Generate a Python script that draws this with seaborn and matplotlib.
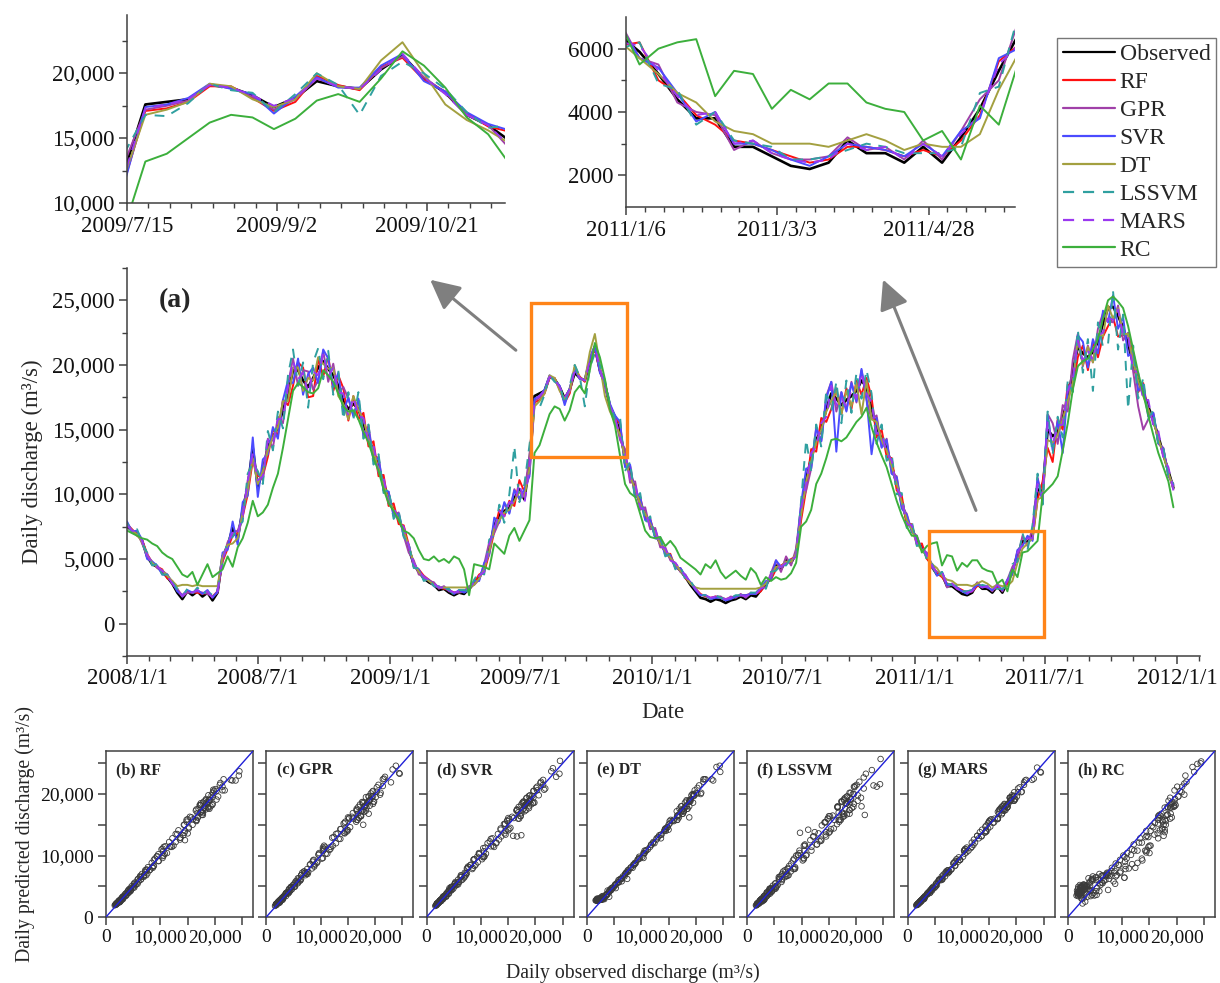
import numpy as np
import pandas as pd
import matplotlib
matplotlib.use("Agg")
import matplotlib.pyplot as plt
import matplotlib.dates as mdates
from matplotlib.ticker import FixedLocator, FuncFormatter
from matplotlib.lines import Line2D
from matplotlib.patches import Rectangle, FancyArrowPatch
import seaborn as sns

# Weekly discharge series, 2008-01-01 onwards (hundreds of m³/s)
observed = [
    75, 72, 70, 64, 52, 46, 44, 40, 36, 31,
    24, 19, 25, 22, 25, 21, 24, 18, 24, 52,
    60, 74, 66, 88, 106, 136, 106, 118, 137, 144,
    152, 165, 178, 196, 196, 188, 183, 190, 198, 203,
    197, 192, 184, 172, 166, 170, 166, 154, 144, 133,
    121, 109, 96, 88, 81, 72, 58, 46, 40, 35,
    32, 30, 26, 27, 24, 22, 24, 23, 27, 31,
    36, 42, 58, 76, 84, 87, 90, 97, 104, 96,
    124, 176, 178, 180, 191, 189, 183, 174, 181, 194,
    190, 188, 203, 214, 196, 185, 168, 160, 148, 128,
    116, 104, 93, 85, 77, 70, 62, 56, 51, 45,
    41, 36, 30, 25, 20, 19, 17, 19, 18, 16,
    18, 19, 21, 19, 22, 21, 26, 30, 36, 45,
    42, 49, 47, 54, 86, 112, 128, 142, 150, 166,
    178, 174, 169, 173, 176, 180, 188, 183, 166, 152,
    143, 136, 122, 108, 94, 80, 74, 64, 59, 52,
    44, 38, 38, 29, 29, 26, 23, 22, 24, 31,
    27, 27, 24, 29, 24, 32, 41, 53, 64, 63,
    69, 104, 102, 150, 145, 148, 159, 174, 195, 214,
    209, 206, 210, 218, 232, 244, 245, 238, 229, 216,
    201, 188, 178, 168, 157, 145, 131, 118, 105]

rf = [
    77, 73, 68, 65, 54, 47, 44, 42, 35, 33,
    26, 22, 25, 24, 24, 23, 24, 21, 25, 48,
    58, 68, 70, 83, 100, 126, 114, 114, 129, 150,
    146, 173, 169, 184, 202, 198, 175, 176, 205, 191,
    207, 180, 192, 182, 157, 176, 158, 163, 137, 141,
    114, 115, 91, 93, 77, 76, 61, 44, 42, 37,
    34, 31, 28, 27, 26, 24, 25, 25, 26, 32,
    38, 40, 54, 71, 88, 83, 95, 91, 111, 102,
    116, 171, 173, 178, 190, 190, 181, 171, 178, 198,
    191, 187, 205, 212, 195, 186, 169, 159, 155, 122,
    122, 99, 98, 81, 81, 67, 65, 54, 54, 43,
    43, 35, 32, 27, 23, 21, 20, 21, 20, 19,
    20, 21, 22, 22, 23, 23, 25, 32, 34, 42,
    45, 47, 50, 52, 80, 104, 135, 133, 159, 156,
    166, 182, 162, 182, 166, 188, 177, 190, 175, 144,
    150, 129, 128, 103, 99, 76, 77, 61, 62, 50,
    46, 39, 36, 31, 30, 28, 26, 24, 25, 29,
    29, 28, 26, 28, 26, 31, 39, 56, 61, 67,
    65, 96, 110, 136, 125, 158, 150, 185, 182, 206,
    215, 196, 218, 206, 222, 230, 237, 222, 223, 224,
    208, 179, 186, 162, 162, 140, 135, 115, 107]

gpr = [
    78, 72, 71, 62, 53, 48, 43, 41, 38, 31,
    27, 21, 24, 24, 25, 24, 23, 21, 24, 49,
    63, 70, 72, 82, 111, 127, 116, 111, 143, 136,
    160, 155, 185, 205, 184, 196, 195, 181, 188, 211,
    187, 201, 178, 183, 174, 161, 173, 146, 153, 127,
    129, 103, 102, 84, 86, 68, 55, 49, 38, 37,
    33, 32, 27, 29, 25, 24, 24, 25, 29, 30,
    34, 46, 63, 70, 79, 93, 86, 104, 96, 101,
    130, 172, 175, 179, 191, 189, 182, 172, 180, 196,
    190, 188, 204, 213, 197, 185, 168, 160, 142, 135,
    109, 110, 88, 90, 73, 74, 59, 59, 49, 47,
    40, 38, 31, 27, 22, 22, 19, 21, 21, 18,
    21, 20, 23, 20, 24, 23, 28, 28, 39, 49,
    40, 52, 45, 58, 92, 103, 120, 152, 141, 176,
    187, 164, 179, 165, 187, 171, 196, 173, 158, 161,
    137, 143, 116, 114, 90, 85, 71, 68, 57, 55,
    43, 40, 39, 28, 31, 27, 25, 25, 26, 32,
    28, 29, 25, 31, 25, 34, 44, 50, 68, 60,
    74, 113, 95, 162, 155, 139, 169, 164, 204, 224,
    199, 215, 202, 228, 240, 234, 233, 246, 219, 225,
    195, 168, 150, 158, 163, 139, 136, 114, 108]

svr = [
    79, 71, 72, 65, 50, 48, 45, 38, 38, 32,
    25, 22, 26, 24, 26, 23, 26, 20, 25, 55,
    57, 79, 61, 94, 99, 144, 98, 127, 131, 152,
    143, 173, 188, 186, 205, 177, 193, 198, 186, 212,
    205, 183, 194, 164, 175, 160, 174, 145, 151, 126,
    128, 103, 102, 83, 85, 68, 61, 44, 42, 34,
    34, 29, 28, 28, 26, 23, 26, 24, 26, 33,
    33, 47, 53, 82, 78, 94, 85, 103, 97, 104,
    114, 174, 176, 181, 192, 188, 184, 169, 182, 197,
    189, 189, 206, 215, 194, 186, 170, 161, 156, 121,
    123, 98, 98, 80, 81, 66, 65, 53, 53, 43,
    43, 37, 32, 26, 22, 22, 19, 20, 20, 18,
    19, 21, 22, 22, 23, 23, 28, 33, 34, 49,
    44, 46, 49, 52, 93, 120, 120, 151, 141, 174,
    187, 133, 179, 164, 186, 172, 197, 174, 131, 159,
    136, 142, 116, 113, 89, 84, 71, 67, 57, 54,
    46, 37, 40, 30, 30, 28, 25, 23, 26, 30,
    29, 28, 26, 30, 26, 34, 38, 57, 60, 68,
    64, 112, 94, 161, 134, 157, 132, 183, 185, 223,
    218, 198, 220, 209, 242, 233, 254, 228, 237, 207,
    210, 180, 185, 160, 163, 140, 135, 115, 107]

dt = [
    76, 72, 69, 63, 53, 47, 44, 41, 37, 33,
    29, 30, 30, 29, 30, 29, 29, 29, 29, 52,
    61, 62, 66, 86, 104, 128, 108, 118, 134, 144,
    152, 172, 172, 198, 198, 180, 190, 188, 206, 201,
    197, 198, 176, 170, 158, 176, 165, 158, 143, 133,
    120, 108, 96, 88, 81, 72, 60, 47, 40, 36,
    33, 30, 28, 28, 28, 28, 28, 28, 28, 30,
    35, 42, 56, 74, 80, 86, 88, 95, 102, 98,
    120, 168, 172, 178, 192, 190, 180, 174, 180, 200,
    190, 188, 210, 224, 200, 176, 164, 156, 146, 128,
    114, 104, 93, 85, 77, 70, 62, 56, 51, 46,
    41, 36, 31, 28, 27, 27, 27, 27, 27, 27,
    27, 27, 27, 27, 27, 27, 28, 31, 37, 44,
    44, 48, 48, 54, 84, 110, 126, 140, 150, 164,
    172, 180, 162, 180, 168, 186, 162, 188, 158, 156,
    142, 134, 122, 108, 94, 80, 73, 62, 57, 52,
    46, 43, 37, 34, 33, 30, 30, 30, 29, 31,
    33, 31, 28, 30, 29, 29, 33, 47, 58, 62,
    66, 96, 98, 142, 140, 146, 158, 172, 186, 220,
    200, 214, 202, 224, 222, 246, 236, 244, 224, 224,
    202, 188, 176, 166, 156, 144, 130, 117, 104]

lssvm = [
    78, 70, 73, 62, 55, 45, 46, 38, 38, 32,
    27, 21, 27, 23, 28, 23, 25, 22, 26, 46,
    65, 67, 74, 79, 116, 124, 118, 108, 149, 134,
    164, 151, 192, 212, 184, 202, 167, 202, 213, 189,
    211, 177, 196, 158, 179, 158, 179, 143, 154, 123,
    131, 101, 104, 81, 87, 67, 62, 43, 43, 33,
    35, 29, 29, 26, 27, 22, 26, 26, 25, 34,
    40, 38, 65, 68, 92, 78, 100, 137, 94, 108,
    138, 168, 167, 177, 192, 187, 185, 170, 184, 200,
    191, 168, 198, 209, 200, 188, 170, 158, 160, 118,
    125, 96, 101, 78, 83, 65, 67, 52, 54, 42,
    44, 34, 33, 27, 22, 22, 19, 22, 20, 19,
    20, 22, 22, 22, 24, 24, 28, 27, 40, 41,
    46, 45, 51, 50, 95, 142, 118, 154, 137, 180,
    164, 187, 155, 188, 163, 194, 174, 196, 178, 139,
    154, 126, 131, 100, 101, 74, 79, 60, 62, 49,
    47, 36, 40, 31, 30, 29, 25, 25, 26, 28,
    30, 29, 27, 27, 27, 29, 46, 48, 70, 57,
    76, 116, 92, 164, 131, 160, 144, 188, 179, 227,
    194, 220, 180, 233, 214, 216, 257, 212, 239, 166,
    215, 174, 190, 158, 165, 138, 136, 114, 108]

mars = [
    76, 72, 71, 64, 53, 47, 44, 41, 37, 31,
    26, 21, 26, 24, 26, 23, 25, 20, 25, 50,
    61, 71, 69, 84, 110, 131, 111, 114, 142, 139,
    158, 159, 183, 203, 189, 194, 178, 195, 192, 209,
    191, 198, 179, 178, 160, 175, 161, 159, 140, 138,
    117, 113, 93, 91, 78, 75, 60, 47, 41, 36,
    34, 31, 28, 28, 26, 24, 25, 25, 28, 32,
    37, 40, 61, 73, 87, 83, 94, 93, 108, 93,
    121, 173, 176, 180, 191, 189, 183, 175, 181, 196,
    190, 188, 203, 215, 197, 184, 168, 160, 144, 132,
    112, 108, 90, 88, 74, 73, 60, 58, 49, 47,
    42, 37, 32, 27, 22, 22, 20, 21, 20, 19,
    20, 21, 22, 21, 23, 23, 27, 29, 38, 43,
    44, 47, 49, 52, 89, 108, 132, 137, 155, 160,
    184, 169, 175, 167, 181, 174, 194, 178, 171, 147,
    147, 132, 126, 105, 97, 77, 76, 62, 61, 53,
    45, 39, 40, 30, 31, 27, 25, 24, 25, 30,
    28, 29, 25, 30, 26, 33, 39, 55, 61, 66,
    66, 108, 98, 156, 139, 153, 154, 180, 189, 219,
    203, 211, 204, 223, 225, 236, 235, 243, 223, 222,
    196, 194, 173, 173, 153, 149, 128, 121, 103]

rc = [
    72, 70, 68, 66, 65, 62, 60, 55, 52, 50,
    44, 38, 36, 40, 30, 38, 46, 36, 39, 42,
    52, 44, 59, 66, 78, 95, 83, 86, 92, 105,
    116, 136, 158, 180, 186, 183, 179, 178, 182, 196,
    192, 187, 178, 168, 164, 165, 158, 148, 140, 128,
    118, 104, 93, 87, 80, 72, 70, 66, 57, 50,
    49, 52, 48, 50, 47, 52, 50, 42, 22, 46,
    45, 44, 42, 62, 58, 54, 68, 74, 64, 72,
    80, 132, 138, 150, 162, 168, 166, 157, 165, 179,
    184, 178, 196, 217, 206, 189, 166, 153, 130, 108,
    101, 98, 85, 72, 67, 66, 67, 60, 64, 59,
    51, 48, 45, 42, 38, 46, 43, 49, 40, 35,
    38, 41, 37, 34, 43, 39, 30, 36, 33, 36,
    34, 35, 39, 47, 75, 79, 88, 108, 116, 128,
    142, 143, 141, 144, 150, 156, 160, 167, 152, 140,
    130, 121, 108, 95, 84, 75, 68, 68, 55, 60,
    62, 63, 45, 53, 52, 41, 47, 44, 49, 49,
    43, 41, 40, 31, 34, 25, 42, 36, 55, 56,
    60, 64, 100, 104, 108, 114, 134, 155, 181, 199,
    203, 205, 212, 220, 236, 250, 253, 249, 244, 230,
    212, 194, 178, 161, 146, 132, 121, 110, 90]

labels = ["Observed", "RF", "GPR", "SVR", "DT", "LSSVM", "MARS", "RC"]
scatter_titles = ["(b) RF", "(c) GPR", "(d) SVR", "(e) DT", "(f) LSSVM", "(g) MARS", "(h) RC"]

dates = pd.date_range("2008-01-01", periods=len(observed), freq="7D")
values = [np.array(v, dtype=float) * 100.0
          for v in (observed, rf, gpr, svr, dt, lssvm, mars, rc)]

colors = ["#000000", "#FF1010", "#A040A8", "#4B4BFF", "#A3A040", "#30A0A0", "#9B38F0", "#3CAF3C"]
styles = ["-", "-", "-", "-", "-", (0, (5, 4)), (0, (5, 4)), "-"]
widths = [1.9, 1.4, 1.4, 1.4, 1.4, 1.4, 1.4, 1.4]

sns.set_theme(style="ticks")
plt.rcParams["font.family"] = ["Liberation Serif", "DejaVu Serif"]
plt.rcParams["axes.unicode_minus"] = False

W, H = 1220, 983
fig = plt.figure(figsize=(W / 100, H / 100), dpi=100)
fig.patch.set_facecolor("white")


def px_axes(left, top, right, bottom):
    return fig.add_axes([left / W, 1 - bottom / H, (right - left) / W, (bottom - top) / H])


SPINE = "#404040"


def style_axes(ax, box=False, labelsize=16.5):
    for s in ("top", "right"):
        ax.spines[s].set_visible(box)
    for s in ax.spines.values():
        s.set_color(SPINE)
        s.set_linewidth(1.1)
    ax.tick_params(which="major", direction="out", length=6, width=1.1, color=SPINE,
                   labelsize=labelsize, pad=3, labelcolor="#111111")
    ax.tick_params(which="minor", direction="out", length=3.5, width=1.0, color=SPINE)
    ax.set_facecolor("white")
    ax.grid(False)


def date_label(x, pos=None):
    d = mdates.num2date(x)
    return f"{d.year}/{d.month}/{d.day}"


comma = FuncFormatter(lambda v, p: f"{int(round(v)):,}")


def draw_series(ax):
    for lab, v, c, ls, lw in zip(labels, values, colors, styles, widths):
        sns.lineplot(x=dates, y=v, ax=ax, color=c, linestyle=ls, linewidth=lw,
                     legend=False, errorbar=None)
    ax.set_xlabel("")
    ax.set_ylabel("")


# ---- main time series panel (a)
ax = px_axes(127, 268, 1200, 656)
draw_series(ax)
style_axes(ax)
x0 = pd.Timestamp("2008-01-01")
ax.set_xlim(mdates.date2num(x0), mdates.date2num(x0 + pd.Timedelta(days=1493)))
ax.set_ylim(-2500, 27500)
major = [pd.Timestamp(f"{y}-{m:02d}-01") for y in range(2008, 2012) for m in (1, 7)] + [pd.Timestamp("2012-01-01")]
ax.xaxis.set_major_locator(FixedLocator(mdates.date2num(major)))
ax.xaxis.set_minor_locator(mdates.MonthLocator())
ax.xaxis.set_major_formatter(FuncFormatter(date_label))
ax.yaxis.set_major_locator(FixedLocator(np.arange(0, 25001, 5000)))
ax.yaxis.set_minor_locator(FixedLocator(np.arange(-2500, 27501, 2500)))
ax.yaxis.set_major_formatter(comma)
ax.text(0.03, 0.9, "(a)", transform=ax.transAxes, fontsize=20, fontweight="bold")

orange = "#FF8418"
for start, end, y0, y1 in [("2009-07-16", "2009-11-27", 12900, 24800),
                           ("2011-01-21", "2011-06-30", -1000, 7200)]:
    a, b = mdates.date2num(pd.Timestamp(start)), mdates.date2num(pd.Timestamp(end))
    ax.add_patch(Rectangle((a, y0), b - a, y1 - y0, fill=False, ec=orange, lw=2.4, zorder=5))

fig.text(32 / W, 1 - 462 / H, "Daily discharge (m³/s)", rotation=90, ha="center", va="center", fontsize=16.5)
fig.text(663 / W, 1 - 713 / H, "Date", ha="center", va="center", fontsize=16.5)

# ---- zoomed windows
in1 = px_axes(127, 15, 505, 203)
draw_series(in1)
style_axes(in1)
s1 = pd.Timestamp("2009-07-15")
in1.set_xlim(mdates.date2num(s1), mdates.date2num(s1 + pd.Timedelta(days=123.5)))
in1.set_ylim(10000, 24500)
in1.xaxis.set_major_locator(FixedLocator(mdates.date2num([s1 + pd.Timedelta(days=49 * i) for i in range(3)])))
in1.xaxis.set_minor_locator(FixedLocator(mdates.date2num([s1 + pd.Timedelta(days=7 * i) for i in range(19)])))
in1.xaxis.set_major_formatter(FuncFormatter(date_label))
in1.yaxis.set_major_locator(FixedLocator([10000, 15000, 20000]))
in1.yaxis.set_minor_locator(FixedLocator([12500, 17500, 22500]))
in1.yaxis.set_major_formatter(comma)

in2 = px_axes(626, 17, 1015, 207)
draw_series(in2)
style_axes(in2)
s2 = pd.Timestamp("2011-01-06")
in2.set_xlim(mdates.date2num(s2), mdates.date2num(s2 + pd.Timedelta(days=144)))
in2.set_ylim(1000, 7000)
in2.xaxis.set_major_locator(FixedLocator(mdates.date2num([s2 + pd.Timedelta(days=56 * i) for i in range(3)])))
in2.xaxis.set_minor_locator(FixedLocator(mdates.date2num([s2 + pd.Timedelta(days=7 * i) for i in range(21)])))
in2.xaxis.set_major_formatter(FuncFormatter(date_label))
in2.yaxis.set_major_locator(FixedLocator([2000, 4000, 6000]))
in2.yaxis.set_minor_locator(FixedLocator([3000, 5000]))
in2.yaxis.set_major_formatter(FuncFormatter(lambda v, p: f"{int(v)}"))

# ---- arrows from the boxes to the zoomed windows
for (tx, ty), (hx, hy) in [((518, 352), (428, 278)), ((977, 513), (882, 277))]:
    fig.patches.append(FancyArrowPatch((tx / W, 1 - ty / H), (hx / W, 1 - hy / H),
                                       transform=fig.transFigure, arrowstyle="-|>,head_length=0.9,head_width=0.45",
                                       mutation_scale=20, lw=2.2, color="#7f7f7f"))

# ---- legend
handles = [Line2D([], [], color=c, ls=ls, lw=1.6) for c, ls in zip(colors, styles)]
leg = fig.legend(handles, labels, loc="upper left", bbox_to_anchor=(1057 / W, 1 - 38 / H),
                 bbox_transform=fig.transFigure, frameon=True, fancybox=False, edgecolor="#555555",
                 fontsize=17, handlelength=2.2, handletextpad=0.2, labelspacing=0.27,
                 borderpad=0.25, borderaxespad=0)
leg.get_frame().set_linewidth(1.0)

# ---- observed vs predicted scatter panels
obs_v = values[0]
ticks = np.arange(0, 25001, 5000)
shown = FuncFormatter(lambda v, p: f"{int(v):,}" if int(v) in (0, 10000, 20000) else "")
for i, (title, pred) in enumerate(zip(scatter_titles, values[1:])):
    left = 106 + i * 160.3
    sx = px_axes(left, 751, left + 147, 917)
    sns.scatterplot(x=obs_v, y=pred, ax=sx, marker="o", s=16, fc="none", ec="#3a3a3a",
                    linewidth=0.6, legend=False)
    sx.plot([0, 27000], [0, 27000], color="#2020D8", lw=1.0, zorder=3)
    style_axes(sx, box=True, labelsize=14)
    sx.set_xlim(0, 27000)
    sx.set_ylim(0, 27000)
    sx.xaxis.set_major_locator(FixedLocator(ticks))
    sx.yaxis.set_major_locator(FixedLocator(ticks))
    sx.xaxis.set_major_formatter(shown)
    if i == 0:
        sx.yaxis.set_major_formatter(shown)
    else:
        sx.yaxis.set_major_formatter(FuncFormatter(lambda v, p: ""))
    sx.set_xlabel("")
    sx.set_ylabel("")
    sx.text(0.07, 0.886, title, transform=sx.transAxes, fontsize=11.5, fontweight="bold", va="center")

fig.text(25 / W, 1 - 834 / H, "Daily predicted discharge (m³/s)", rotation=90, ha="center", va="center", fontsize=14.2)
fig.text(633 / W, 1 - 973 / H, "Daily observed discharge (m³/s)", ha="center", va="center", fontsize=14.2)

fig.savefig("out.png", dpi=100, facecolor="white")
